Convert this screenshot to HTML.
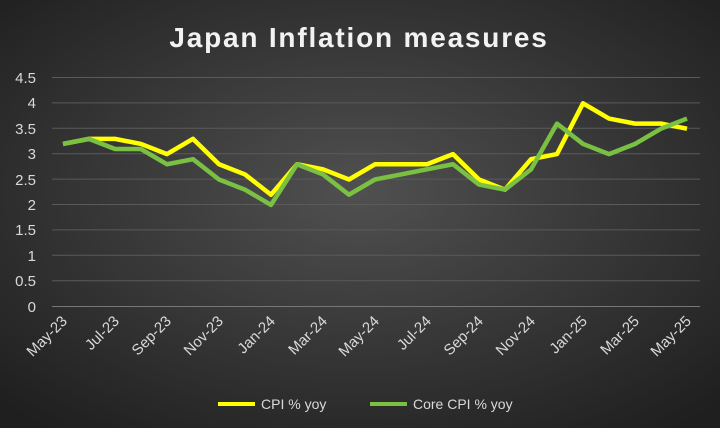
<!DOCTYPE html><html><head><style>body{margin:0}svg{display:block}</style></head><body>
<svg width="720" height="428" xmlns="http://www.w3.org/2000/svg" font-family="Liberation Sans, sans-serif">
<defs><radialGradient id="g" cx="50%" cy="45%" r="70%"><stop offset="0" stop-color="#505050"/><stop offset="1" stop-color="#1f1f1f"/></radialGradient></defs>
<rect width="720" height="428" fill="url(#g)"/>
<text x="359" y="47" text-anchor="middle" fill="#f2f2f2" font-size="28" font-weight="bold" letter-spacing="1.8">Japan Inflation measures</text>
<g stroke="#5a5a5a" stroke-width="1">
<line x1="52" x2="700" y1="77.5" y2="77.5"/><line x1="52" x2="700" y1="102.9" y2="102.9"/><line x1="52" x2="700" y1="128.3" y2="128.3"/><line x1="52" x2="700" y1="153.7" y2="153.7"/><line x1="52" x2="700" y1="179.1" y2="179.1"/><line x1="52" x2="700" y1="204.5" y2="204.5"/><line x1="52" x2="700" y1="229.9" y2="229.9"/><line x1="52" x2="700" y1="255.3" y2="255.3"/><line x1="52" x2="700" y1="280.7" y2="280.7"/>
<line x1="52" x2="700" y1="306.5" y2="306.5" stroke="#777"/>
</g>
<g fill="#d9d9d9" font-size="15" text-anchor="end">
<text x="36" y="83">4.5</text><text x="36" y="108">4</text><text x="36" y="134">3.5</text><text x="36" y="159">3</text><text x="36" y="185">2.5</text><text x="36" y="210">2</text><text x="36" y="235">1.5</text><text x="36" y="261">1</text><text x="36" y="286">0.5</text><text x="36" y="312">0</text>
</g>
<g id="lbl" fill="#d9d9d9" font-size="15" text-anchor="end"></g>
<polyline id="cpi" fill="none" stroke="#ffff00" stroke-width="4.5" stroke-linejoin="round"/>
<polyline id="core" fill="none" stroke="#7ac143" stroke-width="4.5" stroke-linejoin="round"/>
<line x1="218" x2="255" y1="404" y2="404" stroke="#ffff00" stroke-width="4"/>
<text x="261" y="409" fill="#d9d9d9" font-size="14">CPI % yoy</text>
<line x1="370" x2="407" y1="404" y2="404" stroke="#7ac143" stroke-width="4"/>
<text x="413" y="409" fill="#d9d9d9" font-size="14">Core CPI % yoy</text>
</svg>
<script>
var c=[3.2,3.3,3.3,3.2,3.0,3.3,2.8,2.6,2.2,2.8,2.7,2.5,2.8,2.8,2.8,3.0,2.5,2.3,2.9,3.0,4.0,3.7,3.6,3.6,3.5];
var k=[3.2,3.3,3.1,3.1,2.8,2.9,2.5,2.3,2.0,2.8,2.6,2.2,2.5,2.6,2.7,2.8,2.4,2.3,2.7,3.6,3.2,3.0,3.2,3.5,3.7];
function X(i){return 63+i*26}function Y(v){return 306.5-v*50.8}
document.getElementById('cpi').setAttribute('points',c.map((v,i)=>X(i)+','+Y(v)).join(' '));
document.getElementById('core').setAttribute('points',k.map((v,i)=>X(i)+','+Y(v)).join(' '));
var L=['May-23','Jul-23','Sep-23','Nov-23','Jan-24','Mar-24','May-24','Jul-24','Sep-24','Nov-24','Jan-25','Mar-25','May-25'];
var g=document.getElementById('lbl'),h='';
L.forEach((s,j)=>{var x=X(j*2)+5,y=322;h+='<text x="'+x+'" y="'+y+'" transform="rotate(-45 '+x+' '+y+')">'+s+'</text>';});
g.innerHTML=h;
</script>
</body></html>
